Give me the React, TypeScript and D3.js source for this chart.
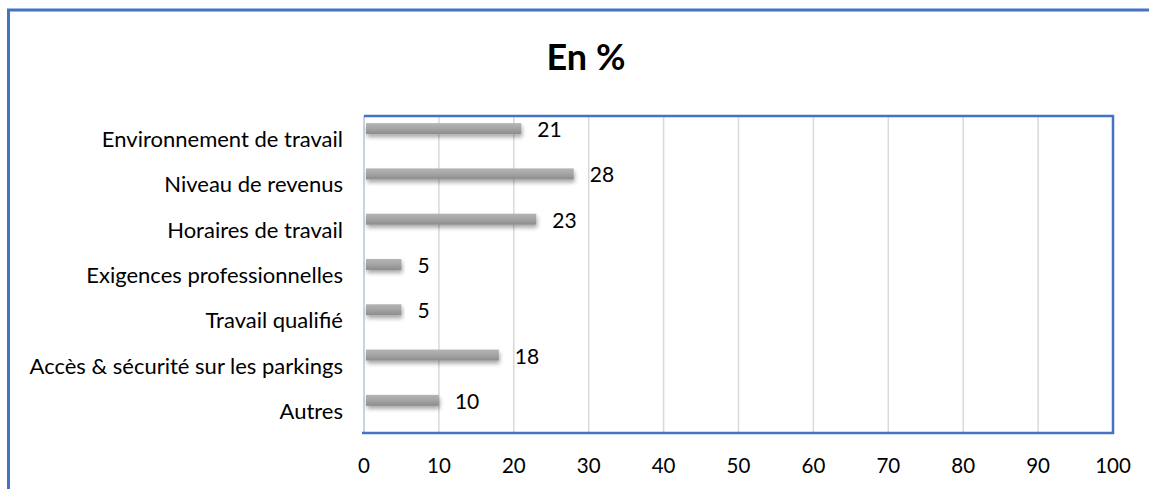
import React from "react";
import * as d3 from "d3";

const categories = [
  "Environnement de travail",
  "Niveau de revenus",
  "Horaires de travail",
  "Exigences professionnelles",
  "Travail qualifié",
  "Accès & sécurité sur les parkings",
  "Autres",
];
const values = [21, 28, 23, 5, 5, 18, 10];
const xTicks = [0, 10, 20, 30, 40, 50, 60, 70, 80, 90, 100];
const title = "En %";

const W = 1149;
const H = 489;
const plot = { left: 364, right: 1113, top: 116, bottom: 433 };
const FONT = "Lato, 'Open Sans', sans-serif";

export default function App() {
  const x = d3.scaleLinear().domain([0, 100]).range([plot.left, plot.right]);
  const y = d3.scaleBand<string>().domain(categories).range([plot.top, plot.bottom]).padding(0);
  const barH = 11;
  const barOffset = -10;

  return (
    <svg
      width={W}
      height={H}
      style={{ position: "absolute", left: 0, top: 0, background: "#fff" }}
      fontFamily={FONT}
    >
      <defs>
        <linearGradient id="barGrad" x1="0" y1="0" x2="0" y2="1">
          <stop offset="0%" stopColor="#b4b4b4" />
          <stop offset="45%" stopColor="#a6a6a6" />
          <stop offset="100%" stopColor="#8c8c8c" />
        </linearGradient>
        <filter id="shadow" x="-10%" y="-50%" width="120%" height="250%">
          <feGaussianBlur in="SourceAlpha" stdDeviation="2" />
          <feOffset dx="1" dy="3" result="off" />
          <feComponentTransfer>
            <feFuncA type="linear" slope="0.35" />
          </feComponentTransfer>
          <feMerge>
            <feMergeNode />
            <feMergeNode in="SourceGraphic" />
          </feMerge>
        </filter>
      </defs>
      <rect x={0} y={0} width={W} height={H} fill="#fff" />
      {/* outer border */}
      <rect x={8.5} y={10} width={1300} height={700} fill="none" stroke="#4472C4" strokeWidth={3} />

      <text x={586} y={70} textAnchor="middle" fontSize={36} fontWeight="bold" fill="#000">
        {title}
      </text>

      {/* gridlines */}
      {xTicks.slice(1, -1).map((t) => (
        <line key={t} x1={x(t)} x2={x(t)} y1={plot.top} y2={plot.bottom} stroke="#d9d9d9" strokeWidth={1.5} />
      ))}
      {/* left axis */}
      <line x1={plot.left} x2={plot.left} y1={plot.top} y2={plot.bottom} stroke="#c9d3e4" strokeWidth={2} />

      {/* bars */}
      {categories.map((c, i) => {
        const cy = (y(c) as number) + y.bandwidth() / 2 + barOffset;
        return (
          <g key={c}>
            <rect
              x={x(0) + 2}
              y={cy - barH / 2}
              width={x(values[i]) - x(0) - 2}
              height={barH}
              fill="url(#barGrad)"
              filter="url(#shadow)"
            />
            <text x={x(values[i]) + 16} y={cy} dominantBaseline="central" fontSize={21} fill="#000">
              {values[i]}
            </text>
          </g>
        );
      })}

      {/* plot border */}
      <polyline
        points={`${plot.left},${plot.top} ${plot.right},${plot.top} ${plot.right},${plot.bottom} ${plot.left - 2},${plot.bottom}`}
        fill="none"
        stroke="#4472C4"
        strokeWidth={2.5}
      />

      {/* category labels */}
      {categories.map((c) => (
        <text
          key={c}
          x={343}
          y={(y(c) as number) + y.bandwidth() / 2}
          textAnchor="end"
          dominantBaseline="central"
          fontSize={22}
          fill="#000"
        >
          {c}
        </text>
      ))}

      {/* x tick labels */}
      {xTicks.map((t) => (
        <text key={t} x={x(t)} y={473} textAnchor="middle" fontSize={20.5} fill="#000">
          {t}
        </text>
      ))}
    </svg>
  );
}
